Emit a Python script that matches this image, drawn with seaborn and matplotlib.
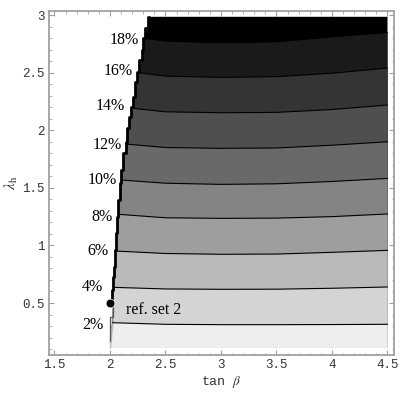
import matplotlib
matplotlib.use("Agg")
import matplotlib.pyplot as plt
from matplotlib.ticker import MultipleLocator
import seaborn as sns
import pandas as pd

# values
levels = ["2%", "4%", "6%", "8%", "10%", "12%", "14%", "16%", "18%"]
band_gray = [238, 212, 185, 158, 132, 105, 79, 52, 26, 0]  # below 2% ... above 18%

# contour lines: lambda_h at tan(beta) = [left edge, 2.5, 3.0, 3.5, 4.0, 4.5]
line_left_tanb = [2.024, 2.031, 2.053, 2.077, 2.100, 2.148, 2.207, 2.262, 2.315]
tanb_cols = [2.5, 3.0, 3.5, 4.0, 4.5]
contour_lam = [
    [0.329, 0.315, 0.312, 0.312, 0.313, 0.315],
    [0.636, 0.622, 0.619, 0.620, 0.628, 0.639],
    [0.951, 0.930, 0.923, 0.925, 0.940, 0.957],
    [1.270, 1.240, 1.235, 1.237, 1.250, 1.273],
    [1.568, 1.540, 1.530, 1.535, 1.555, 1.582],
    [1.880, 1.850, 1.843, 1.846, 1.870, 1.900],
    [2.190, 2.160, 2.152, 2.155, 2.180, 2.219],
    [2.499, 2.470, 2.459, 2.465, 2.495, 2.540],
    [2.797, 2.774, 2.759, 2.768, 2.811, 2.849],
]

# left edge of the allowed region (bottom -> top), a jagged staircase
edge_lam = [0.110, 0.222, 0.326, 0.439, 0.500, 0.613, 0.728, 0.815, 0.960, 1.105,
            1.249, 1.394, 1.539, 1.655, 1.799, 1.900, 2.017, 2.117, 2.204, 2.291,
            2.421, 2.508, 2.609, 2.696, 2.798, 2.885, 2.985]
edge_tanb = [2.000, 2.000, 2.024, 2.024, 2.022, 2.030, 2.036, 2.045, 2.054, 2.060,
             2.075, 2.090, 2.096, 2.120, 2.141, 2.150, 2.171, 2.189, 2.210, 2.225,
             2.246, 2.264, 2.286, 2.300, 2.315, 2.340, 2.354]
lam_min, lam_max, tanb_max = 0.110, 2.985, 4.5

label_tanb = [1.94, 1.94, 1.985, 2.024, 2.06, 2.105, 2.135, 2.205, 2.261]
label_lam = [0.309, 0.639, 0.951, 1.249, 1.568, 1.872, 2.210, 2.514, 2.783]

ref_point = (2.0, 0.50)

sns.set_theme(style="ticks")
plt.rcParams["mathtext.fontset"] = "stix"

fig = plt.figure(figsize=(4, 4), dpi=100)
ax = fig.add_axes([0.1225, 0.1125, 0.8625, 0.8605])


def gray(v):
    return (v / 255, v / 255, v / 255)


# whole region black first, then lighter bands painted from the top down
ax.fill(edge_tanb + [tanb_max, tanb_max], edge_lam + [lam_max, lam_min],
        color=gray(band_gray[-1]), lw=0)
for k in range(len(levels) - 1, -1, -1):
    xs = [line_left_tanb[k]] + tanb_cols
    ys = contour_lam[k]
    below = [(t, l) for t, l in zip(edge_tanb, edge_lam) if l < ys[0]]
    px = xs + [tanb_max] + [t for t, l in below]
    py = ys + [lam_min] + [l for t, l in below]
    ax.fill(px, py, color=gray(band_gray[k]), lw=0)

for k in range(len(levels)):
    df = pd.DataFrame({"tanb": [line_left_tanb[k]] + tanb_cols, "lam": contour_lam[k]})
    sns.lineplot(data=df, x="tanb", y="lam", sort=False, color="black", lw=0.8, ax=ax)

# boundary: thick above the reference point, thin below
edge = pd.DataFrame({"tanb": edge_tanb, "lam": edge_lam})
upper = edge[edge["lam"] >= ref_point[1]]
lower = edge[edge["lam"] <= ref_point[1]]
sns.lineplot(data=upper, x="tanb", y="lam", sort=False, color="black", lw=2.0,
             drawstyle="steps-pre", ax=ax)
sns.lineplot(data=lower, x="tanb", y="lam", sort=False, color="#555555", lw=0.9,
             drawstyle="steps-pre", ax=ax)

sns.scatterplot(x=[ref_point[0]], y=[ref_point[1]], color="black", s=40, ax=ax, zorder=5)

serif = ["Liberation Serif", "DejaVu Serif"]
for txt, tx, ty in zip(levels, label_tanb, label_lam):
    ax.text(tx, ty, txt, ha="right", va="center", family=serif, fontsize=11.5, color="black")
ax.text(2.144, 0.44, "ref. set 2", ha="left", va="center", family=serif, fontsize=11.5, color="black")

ax.set_xlim(1.4505, 4.5586)
ax.set_ylim(0.0486, 3.037)
ax.xaxis.set_minor_locator(MultipleLocator(0.1))
ax.yaxis.set_minor_locator(MultipleLocator(0.1))
ax.set_xticks([1.5, 2, 2.5, 3, 3.5, 4, 4.5])
ax.set_xticklabels(["1.5", "2", "2.5", "3", "3.5", "4", "4.5"])
ax.set_yticks([0.5, 1, 1.5, 2, 2.5, 3])
ax.set_yticklabels(["0.5", "1", "1.5", "2", "2.5", "3"])

frame = "#a0a0a0"
for sp in ax.spines.values():
    sp.set_visible(True)
    sp.set_color(frame)
    sp.set_linewidth(1.3)
ax.tick_params(which="both", direction="in", top=True, right=True, color=frame)
ax.tick_params(which="major", length=3.5, width=0.8, pad=3)
ax.tick_params(which="minor", length=1.8, width=0.6)
mono = ["Liberation Mono", "DejaVu Sans Mono"]
for lab in ax.get_xticklabels() + ax.get_yticklabels():
    lab.set_family(mono)
    lab.set_fontsize(9)
    lab.set_color("#333333")

ax.set_xlabel(r"tan $\beta$", family=mono, fontsize=9.5, color="#333333", labelpad=2)
ax.set_ylabel(r"$\lambda_{\rm h}$", fontsize=11, color="#333333", labelpad=2)
ax.set_facecolor("white")

fig.savefig("out.png", dpi=100)
